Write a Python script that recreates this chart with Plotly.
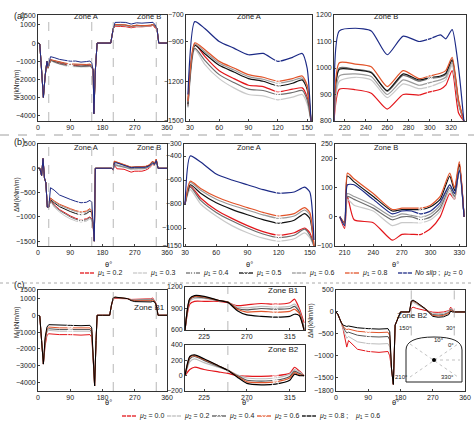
import plotly.graph_objects as go

W, H = 474, 424
def px(x): return x / W
def py(y): return 1 - y / H

# ---------------- data ----------------
S1 = ["0.2", "0.3", "0.4", "0.5", "0.6", "0.8", "ns"]
C1 = {"0.2": "#e3161b", "0.3": "#c9c9c9", "0.4": "#6e6e6e", "0.5": "#111111",
      "0.6": "#9a9a9a", "0.8": "#e2542a", "ns": "#1c2a86"}
M1 = {"0.2": "square-open", "0.3": "circle-open", "0.4": "square-x-open", "0.5": "triangle-down-open",
      "0.6": "diamond-open", "0.8": "triangle-left-open", "ns": "circle-open"}
L1 = ["<i>μ</i><sub>1</sub> = 0.2", "<i>μ</i><sub>1</sub> = 0.3", "<i>μ</i><sub>1</sub> = 0.4",
      "<i>μ</i><sub>1</sub> = 0.5", "<i>μ</i><sub>1</sub> = 0.6", "<i>μ</i><sub>1</sub> = 0.8",
      "<i>No slip</i> ;  <i>μ</i><sub>2</sub> = 0"]

# (a) zone A
aA_x = [28, 35, 45, 60, 75, 90, 105, 120, 135, 145, 150, 154]
aA_y = {
    "ns":  [-1300, -750, -800, -900, -950, -1000, -990, -1050, -1020, -990, -1100, -1500],
    "0.8": [-1350, -910, -960, -1050, -1100, -1150, -1170, -1200, -1180, -1160, -1230, -1500],
    "0.6": [-1360, -920, -975, -1065, -1115, -1165, -1185, -1215, -1195, -1175, -1240, -1500],
    "0.5": [-1370, -930, -990, -1080, -1130, -1180, -1200, -1235, -1215, -1190, -1260, -1500],
    "0.2": [-1380, -920, -1010, -1120, -1180, -1230, -1240, -1280, -1260, -1250, -1320, -1500],
    "0.4": [-1390, -950, -1040, -1150, -1210, -1260, -1270, -1300, -1285, -1270, -1340, -1500],
    "0.3": [-1400, -960, -1070, -1180, -1250, -1300, -1310, -1340, -1320, -1300, -1370, -1500],
}
# (a) zone B
aB_x = [210, 215, 230, 245, 260, 275, 290, 300, 310, 315, 321, 327, 332]
aB_y = {
    "ns":  [800, 1140, 1150, 1140, 1050, 1120, 1100, 1110, 1125, 1110, 1145, 1000, 800],
    "0.8": [800, 1020, 1015, 1005, 930, 990, 960, 970, 980, 990, 1040, 880, 800],
    "0.4": [800, 1000, 995, 985, 912, 972, 950, 960, 966, 975, 1028, 870, 800],
    "0.5": [800, 995, 993, 982, 915, 978, 955, 964, 970, 980, 1032, 872, 800],
    "0.6": [800, 970, 978, 968, 900, 955, 935, 945, 955, 965, 1020, 865, 800],
    "0.3": [800, 950, 965, 955, 888, 940, 922, 930, 945, 955, 1010, 860, 800],
    "0.2": [800, 920, 918, 905, 845, 900, 898, 910, 920, 935, 990, 830, 800],
}
# (b) zone A
bA_x = [30, 35, 45, 60, 75, 90, 105, 120, 135, 145, 150, 154]
bA_y = {
    "ns":  [-800, -400, -450, -550, -600, -640, -680, -710, -700, -660, -700, -1100],
    "0.8": [-800, -610, -670, -740, -790, -830, -870, -900, -880, -830, -870, -1150],
    "0.6": [-800, -620, -685, -760, -810, -850, -890, -920, -900, -850, -890, -1150],
    "0.5": [-800, -640, -710, -790, -845, -890, -930, -960, -935, -880, -920, -1150],
    "0.2": [-800, -650, -750, -850, -920, -980, -1030, -1060, -1040, -1000, -1040, -1150],
    "0.4": [-800, -660, -770, -870, -940, -1000, -1050, -1080, -1060, -1010, -1060, -1150],
    "0.3": [-800, -680, -800, -900, -980, -1040, -1085, -1110, -1090, -1040, -1080, -1150],
}
# (b) zone B
bB_x = [205, 210, 213, 220, 240, 260, 270, 280, 290, 300, 310, 320, 325, 330, 335]
bB_y = {
    "ns":  [0, -30, 110, 110, 60, 10, 20, 20, 10, 20, 50, 110, 80, 160, 0],
    "0.8": [0, -20, 150, 130, 80, 25, 30, 30, 30, 40, 70, 150, 100, 190, 0],
    "0.5": [0, -20, 140, 120, 70, 20, 25, 25, 25, 35, 60, 140, 90, 180, 0],
    "0.6": [0, -25, 80, 70, 40, 0, 10, 5, 0, 10, 40, 110, 80, 170, 0],
    "0.4": [0, -25, 70, 60, 30, -10, 0, 0, -10, 0, 30, 100, 70, 165, 0],
    "0.3": [0, -30, 60, 40, 20, -30, -20, -20, -20, -10, 20, 90, 60, 170, 0],
    "0.2": [0, -40, 70, -10, -20, -80, -60, -60, -60, -40, 0, 80, 60, 180, 0],
}
# overview (left panel) pieces
aL_pre_x = [0, 5, 10, 15, 20, 25]
aL_pre_y = [0, -50, -1500, -3000, -1800, -1000]
aL_mid_x = [156, 160, 165, 180, 203]
aL_mid_y = [-3900, -1500, 0, 0, 0]
aL_post_x = [337, 340, 360]
aL_post_y = [0, 0, 0]
bL_pre_x = [0, 5, 10, 14, 18, 22, 26]
bL_pre_y = [0, 0, -150, 200, -200, -300, -800]
bL_mid_x = [157, 160, 180, 200]
bL_mid_y = [-1500, 0, 0, 0]
bL_post_x = [340, 360]
bL_post_y = [0, 0]

# (c)
S2 = ["0.0", "0.2", "0.4", "0.6", "0.8"]
C2 = {"0.0": "#e3161b", "0.2": "#bdbdbd", "0.4": "#555555", "0.6": "#e2542a", "0.8": "#000000"}
M2 = {"0.0": "square-open", "0.2": "circle-open", "0.4": "triangle-up-open", "0.6": "triangle-down-open", "0.8": "diamond-open"}
L2 = ["<i>μ</i><sub>2</sub> = 0.0", "<i>μ</i><sub>2</sub> = 0.2", "<i>μ</i><sub>2</sub> = 0.4",
      "<i>μ</i><sub>2</sub> = 0.6", "<i>μ</i><sub>2</sub> = 0.8 ;    <i>μ</i><sub>1</sub> = 0.6"]
cB_x = [205, 210, 215, 225, 240, 250, 260, 270, 285, 300, 315, 320, 325, 330]
cB1_y = {
    "0.0": [600, 960, 1000, 1000, 1000, 980, 940, 950, 970, 960, 980, 1030, 900, 700],
    "0.2": [600, 1000, 1040, 1040, 1010, 990, 920, 910, 930, 920, 930, 960, 870, 650],
    "0.4": [600, 1020, 1060, 1050, 1010, 990, 900, 880, 900, 890, 900, 930, 850, 620],
    "0.6": [600, 1030, 1070, 1060, 1015, 990, 890, 850, 860, 850, 860, 890, 830, 600],
    "0.8": [600, 1040, 1080, 1070, 1015, 985, 870, 810, 790, 780, 790, 820, 800, 600],
}
cB2_y = {
    "0.0": [0, 80, 110, 80, 50, 30, 0, -5, -10, 0, 30, 110, 60, 0],
    "0.2": [0, 180, 220, 170, 110, 70, 10, -30, -40, -30, 20, 80, 50, 0],
    "0.4": [0, 220, 250, 200, 120, 70, 0, -60, -70, -60, -10, 60, 30, 0],
    "0.6": [0, 240, 260, 210, 130, 70, -10, -80, -90, -80, -30, 40, 10, 0],
    "0.8": [0, 250, 270, 220, 130, 70, -20, -100, -120, -110, -60, 20, 0, 0],
}
cL_x = [0, 5, 10, 15, 20, 25, 30, 60, 90, 120, 145, 150, 155, 158, 162, 165, 180, 200]
cL_y = {
    "0.0": [0, -50, -1500, -2900, -1800, -1200, -1100, -1150, -1150, -1180, -1150, -1300, -3000, -4200, -1500, 0, 0, 0],
    "0.2": [0, -50, -1500, -2900, -1600, -1000, -900, -950, -950, -970, -950, -1100, -3000, -4200, -1500, 0, 0, 0],
    "0.4": [0, -50, -1500, -2900, -1500, -900, -800, -850, -850, -870, -850, -1000, -3000, -4200, -1500, 0, 0, 0],
    "0.6": [0, -50, -1500, -2900, -1400, -800, -700, -750, -750, -770, -750, -900, -3000, -4200, -1500, 0, 0, 0],
    "0.8": [0, -50, -1500, -2900, -1300, -700, -560, -600, -600, -620, -600, -750, -3000, -4200, -1500, 0, 0, 0],
}
cR_x = [0, 5, 10, 15, 20, 25, 30, 35, 60, 90, 120, 145, 150, 155, 160, 165, 180, 200]
cR_y = {
    "0.0": [0, -50, -150, -250, -400, -600, -800, -650, -850, -900, -920, -900, -1000, -1300, -1650, -300, 0, 0],
    "0.2": [0, -50, -150, -250, -380, -500, -600, -560, -680, -720, -730, -720, -800, -1300, -1650, -300, 0, 0],
    "0.4": [0, -50, -150, -250, -350, -420, -480, -460, -530, -560, -570, -560, -640, -1300, -1650, -300, 0, 0],
    "0.6": [0, -50, -150, -250, -330, -380, -400, -390, -440, -460, -470, -460, -540, -1300, -1650, -300, 0, 0],
    "0.8": [0, -50, -150, -250, -300, -320, -330, -320, -360, -380, -390, -380, -450, -1300, -1650, -300, 0, 0],
}
post_x = [335, 340, 360]
post_y = [0, 0, 0]

fig = go.Figure()
lay = {}
AX = [0]
ann = []
def t(x, y, s, size=8, **k):
    ann.append(dict(x=px(x), y=py(y), xref="paper", yref="paper", text=s, showarrow=False,
                    font=dict(size=size, color="#222"), **k))

def axis(xd, yd, xr, yr, xt, yt, xtitle=None, ytitle=None):
    AX[0] += 1
    n = AX[0]
    s = "" if n == 1 else str(n)
    common = dict(showline=True, linecolor="#333", linewidth=0.8, mirror=True, ticks="inside",
                  ticklen=2, showgrid=False, zeroline=False, automargin=False,
                  tickfont=dict(size=7, color="#222"))
    lay["xaxis" + s] = dict(domain=[px(xd[0]), px(xd[1])], range=xr, tickvals=xt,
                            anchor="y" + s, **common)
    lay["yaxis" + s] = dict(domain=[py(yd[1]), py(yd[0])], range=yr, tickvals=yt,
                            anchor="x" + s, **common)
    if xtitle:
        t((xd[0] + xd[1]) / 2, yd[1] + 18, xtitle, 7.5)
    if ytitle:
        t(ytitle[1], (yd[0] + yd[1]) / 2, ytitle[0], 6.5, textangle=-90)
    return "x" + s, "y" + s

def line(xa, ya, x, y, color, sym, mx, shape="spline", width=1.2):
    fig.add_trace(go.Scatter(x=x, y=y, xaxis=xa, yaxis=ya, mode="lines", showlegend=False,
                             line=dict(color=color, width=width, shape=shape, smoothing=0.6),
                             hoverinfo="skip"))
    if mx is not None:
        i = x.index(mx)
        fig.add_trace(go.Scatter(x=[x[i]], y=[y[i]], xaxis=xa, yaxis=ya, mode="markers", showlegend=False,
                                 marker=dict(symbol=sym, size=5, color="white", line=dict(width=0.9, color="#333"))))

def vlines(xa, ya, xs, y0=0, y1=1):
    for v in xs:
        fig.add_shape(type="line", xref=xa, yref=ya + " domain", x0=v, x1=v, y0=y0, y1=y1,
                      line=dict(color="#999", width=0.7, dash="dash"))

# row a
xa, ya = axis((38, 167), (15, 121), [0, 360], [-4300, 1550], [0, 90, 180, 270, 360],
              [-4000, -3000, -2000, -1000, 0, 1000, 1500], ytitle=("M(kNm/m)", 11))
vlines(xa, ya, [30, 150, 210, 330])
for s in S1:
    x = aL_pre_x + aA_x + aL_mid_x + aB_x + aL_post_x
    y = aL_pre_y + aA_y[s] + aL_mid_y + aB_y[s] + aL_post_y
    line(xa, ya, x, y, C1[s], M1[s], 90, shape="linear", width=1)
xa, ya = axis((186, 312), (15, 121), [26, 155], [-1500, -700], [30, 60, 90, 120, 150],
              [-1500, -1200, -900, -700])
for s in S1:
    line(xa, ya, aA_x, aA_y[s], C1[s], M1[s], 120)
xa, ya = axis((334, 466), (15, 121), [210, 334], [800, 1200], [220, 240, 260, 280, 300, 320],
              [800, 900, 1000, 1100, 1200])
for s in S1:
    line(xa, ya, aB_x, aB_y[s], C1[s], M1[s], 300)

# row b
xa, ya = axis((38, 167), (144, 246), [0, 360], [-1600, 500], [0, 90, 180, 270, 360],
              [-1500, -1000, -500, 0, 500], xtitle="θ°", ytitle=("ΔM(kNm/m)", 11))
vlines(xa, ya, [30, 150, 210, 330])
for s in S1:
    x = bL_pre_x + bA_x + bL_mid_x + bB_x + bL_post_x
    y = bL_pre_y + bA_y[s] + bL_mid_y + bB_y[s] + bL_post_y
    line(xa, ya, x, y, C1[s], M1[s], 120, shape="linear", width=1)
xa, ya = axis((184, 315), (144, 246), [29, 155], [-1150, -300], [30, 60, 90, 120, 150],
              [-1150, -1000, -800, -600, -400, -300], xtitle="θ°")
for s in S1:
    line(xa, ya, bA_x, bA_y[s], C1[s], M1[s], 120)
xa, ya = axis((335, 466), (144, 246), [200, 337], [-100, 250], [210, 240, 270, 300, 330],
              [-100, 0, 100, 200, 250], xtitle="θ°")
for s in S1:
    line(xa, ya, bB_x, bB_y[s], C1[s], M1[s], 290)

# row c
xa, ya = axis((38, 167), (290, 391), [0, 360], [-4500, 1500], [0, 90, 180, 270, 360],
              [-4000, -3000, -2000, -1000, 0, 1000, 1500], xtitle="θ°", ytitle=("M<sub>l</sub>(kNm/m)", 11))
vlines(xa, ya, [210, 330])
for s in S2:
    line(xa, ya, cL_x + cB_x + post_x, cL_y[s] + cB1_y[s] + post_y, C2[s], M2[s], 90, shape="linear", width=1)
xa, ya = axis((185, 305), (287, 330), [205, 331], [600, 1200], [225, 270, 315], [600, 900, 1200])
vlines(xa, ya, [250])
for s in S2:
    line(xa, ya, cB_x, cB1_y[s], C2[s], M2[s], 300)
xa, ya = axis((185, 305), (345, 391), [205, 331], [-200, 400], [225, 270, 315], [-200, 0, 200, 400],
              xtitle="θ°")
vlines(xa, ya, [250])
for s in S2:
    line(xa, ya, cB_x, cB2_y[s], C2[s], M2[s], 300)
xa, ya = axis((336, 465), (290, 391), [0, 360], [-1800, 500], [0, 90, 180, 270, 360],
              [-1800, -1500, -1000, -500, 0, 500], xtitle="θ°", ytitle=("ΔM(kNm/m)", 311))
vlines(xa, ya, [210, 330], 0.55, 1)
for s in S2:
    line(xa, ya, cR_x + cB_x + post_x, cR_y[s] + cB2_y[s] + post_y, C2[s], M2[s], 90, shape="linear", width=1)

# overlay pixel axis for legend keys
lay["xaxis99"] = dict(domain=[0, 1], range=[0, W], visible=False, anchor="y99", fixedrange=True)
lay["yaxis99"] = dict(domain=[0, 1], range=[H, 0], visible=False, anchor="x99", fixedrange=True)

def legend_row(keys, colors, syms, labels, starts, yrow):
    for k, lab, x0 in zip(keys, labels, starts):
        fig.add_trace(go.Scatter(x=[x0, x0 + 14], y=[yrow, yrow], xaxis="x99", yaxis="y99", mode="lines",
                                 showlegend=False, line=dict(color=colors[k], width=1.3), hoverinfo="skip"))
        fig.add_trace(go.Scatter(x=[x0 + 7], y=[yrow], xaxis="x99", yaxis="y99", mode="markers",
                                 showlegend=False, hoverinfo="skip",
                                 marker=dict(symbol=syms[k], size=5, color="white", line=dict(width=0.9, color="#333"))))
        t(x0 + 15, yrow, lab, 7, xanchor="left", yanchor="middle")

legend_row(S1, C1, M1, L1, [80, 133, 186, 239, 292, 345, 398], 273)
legend_row(S2, C2, M2, L2, [122, 167, 212, 257, 302], 416)

t(12, 9, "(a)", 9)
t(12, 142, "(b)", 9)
t(12, 292, "(c)", 9)
for (x, y, s) in [(72, 10, "Zone A"), (135, 10, "Zone B"), (249, 10, "Zone A"), (400, 10, "Zone B"),
                  (72, 141, "Zone A"), (135, 141, "Zone B"), (249, 141, "Zone A"), (400, 141, "Zone B")]:
    t(x, y, s, 7.5)
t(132, 314, "Zone B1", 8)
t(283, 297, "Zone B1", 8)
t(283, 356, "Zone B2", 8)
t(430, 322, "Zone B2", 8)
t(414, 333, "150°", 6); t(458, 333, "30°", 6); t(456, 350, "0°", 6)
t(446, 345, "10°", 6); t(410, 382, "210°", 6); t(456, 382, "330°", 6)
lay["annotations"] = ann

shapes = [
    dict(type="line", xref="paper", yref="paper", x0=0, x1=1, y0=py(135), y1=py(135),
         line=dict(color="#888", width=0.8, dash="dash")),
    dict(type="line", xref="paper", yref="paper", x0=0, x1=1, y0=py(283), y1=py(283),
         line=dict(color="#aaa", width=1, dash="dot")),
    dict(type="path", xref="paper", yref="paper",
         path=f"M {px(406)},{py(382)} L {px(406)},{py(350)} Q {px(406)},{py(337)} {px(434)},{py(337)} "
              f"Q {px(462)},{py(337)} {px(462)},{py(350)} L {px(462)},{py(382)} Z",
         line=dict(color="#222", width=1)),
    dict(type="line", xref="paper", yref="paper", x0=px(410), x1=px(458), y0=py(344), y1=py(377),
         line=dict(color="#999", width=0.6, dash="dot")),
    dict(type="line", xref="paper", yref="paper", x0=px(410), x1=px(458), y0=py(377), y1=py(344),
         line=dict(color="#999", width=0.6, dash="dot")),
    dict(type="line", xref="paper", yref="paper", x0=px(434), x1=px(460), y0=py(360), y1=py(360),
         line=dict(color="#999", width=0.6, dash="dot")),
    dict(type="circle", xref="paper", yref="paper", x0=px(432), x1=px(436), y0=py(362), y1=py(358),
         fillcolor="#000", line=dict(width=0)),
]
lay["shapes"] = list(fig.layout.shapes) + shapes

fig.update_layout(width=W, height=H, margin=dict(l=0, r=0, t=0, b=0), plot_bgcolor="rgba(0,0,0,0)",
                  paper_bgcolor="white", font=dict(family="Liberation Sans, Arial", size=8, color="#222"),
                  **lay)
fig.write_html("out.html", config={"displayModeBar": False},
               post_script="document.body.style.margin='0';document.body.style.overflow='hidden';")
